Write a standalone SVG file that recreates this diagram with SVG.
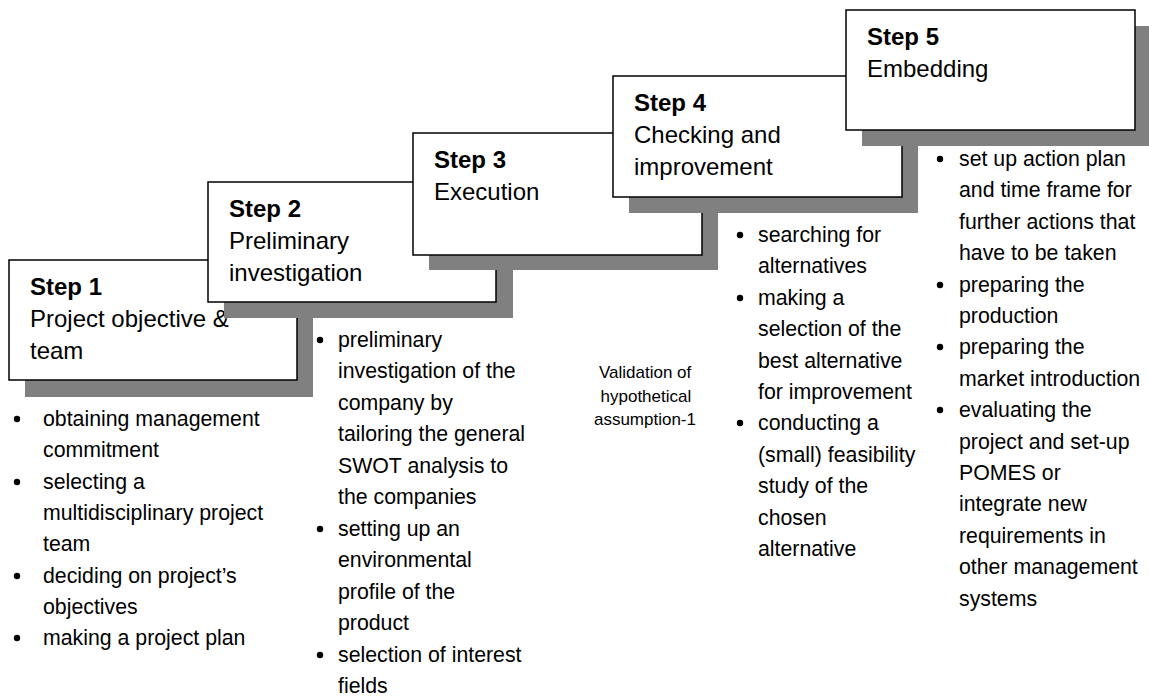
<svg xmlns="http://www.w3.org/2000/svg" width="1149" height="700" viewBox="0 0 1149 700">
  <style>
    .shadow { fill: #808080; stroke: none; }
    .box { fill: #ffffff; stroke: #000000; stroke-width: 1.5; }
    .title { font-family: "Liberation Sans", Arial, sans-serif; font-size: 24px; font-weight: bold; fill: #000; }
    .label { font-family: "Liberation Sans", Arial, sans-serif; font-size: 24px; fill: #000; }
    .item { font-family: "Liberation Sans", Arial, sans-serif; font-size: 21.3px; fill: #000; }
    .note { font-family: "Liberation Sans", Arial, sans-serif; font-size: 17px; fill: #000; text-anchor: end; }
    .dot { fill: #000; }
  </style>
  <rect width="1149" height="700" fill="#ffffff"/>

  <!-- Step 1 -->
  <g id="step1">
    <rect class="shadow" x="25" y="276" width="288" height="121"/>
    <rect class="box" x="9" y="260" width="288" height="120"/>
    <text class="title" x="30" y="295">Step 1</text>
    <text class="label" x="30" y="327">Project objective &amp;</text>
    <text class="label" x="30" y="359">team</text>
    <g class="bullets">
      <circle class="dot" cx="17" cy="419" r="3.2"/>
      <circle class="dot" cx="17" cy="482" r="3.2"/>
      <circle class="dot" cx="17" cy="576" r="3.2"/>
      <circle class="dot" cx="17" cy="638" r="3.2"/>
      <text class="item">
        <tspan x="43" y="426">obtaining management</tspan>
        <tspan x="43" y="457.3">commitment</tspan>
        <tspan x="43" y="488.6">selecting a</tspan>
        <tspan x="43" y="519.9">multidisciplinary project</tspan>
        <tspan x="43" y="551.2">team</tspan>
        <tspan x="43" y="582.5">deciding on project’s</tspan>
        <tspan x="43" y="613.8">objectives</tspan>
        <tspan x="43" y="645.1">making a project plan</tspan>
      </text>
    </g>
  </g>

  <!-- Step 2 -->
  <g id="step2">
    <rect class="shadow" x="224" y="198" width="289" height="120"/>
    <rect class="box" x="208" y="182" width="288" height="120"/>
    <text class="title" x="229" y="217">Step 2</text>
    <text class="label" x="229" y="249">Preliminary</text>
    <text class="label" x="229" y="281">investigation</text>
    <g class="bullets">
      <circle class="dot" cx="320" cy="340" r="3.2"/>
      <circle class="dot" cx="320" cy="529" r="3.2"/>
      <circle class="dot" cx="320" cy="655" r="3.2"/>
      <text class="item">
        <tspan x="338" y="347">preliminary</tspan>
        <tspan x="338" y="378.45">investigation of the</tspan>
        <tspan x="338" y="409.9">company by</tspan>
        <tspan x="338" y="441.35">tailoring the general</tspan>
        <tspan x="338" y="472.8">SWOT analysis to</tspan>
        <tspan x="338" y="504.25">the companies</tspan>
        <tspan x="338" y="535.7">setting up an</tspan>
        <tspan x="338" y="567.15">environmental</tspan>
        <tspan x="338" y="598.6">profile of the</tspan>
        <tspan x="338" y="630.05">product</tspan>
        <tspan x="338" y="661.5">selection of interest</tspan>
        <tspan x="338" y="692.95">fields</tspan>
      </text>
    </g>
  </g>

  <!-- Step 3 -->
  <g id="step3">
    <rect class="shadow" x="429" y="149" width="289" height="121"/>
    <rect class="box" x="413" y="133" width="289" height="122"/>
    <text class="title" x="434" y="168">Step 3</text>
    <text class="label" x="434" y="200">Execution</text>
    <text class="note">
      <tspan x="696" y="378">Validation of</tspan>
      <tspan x="696" y="401.5">hypothetical</tspan>
      <tspan x="696" y="425">assumption-1</tspan>
    </text>
  </g>

  <!-- Step 4 -->
  <g id="step4">
    <rect class="shadow" x="629" y="92" width="289" height="121"/>
    <rect class="box" x="613" y="76" width="289" height="121"/>
    <text class="title" x="634" y="111">Step 4</text>
    <text class="label" x="634" y="143">Checking and</text>
    <text class="label" x="634" y="175">improvement</text>
    <g class="bullets">
      <circle class="dot" cx="740" cy="235" r="3.2"/>
      <circle class="dot" cx="740" cy="298" r="3.2"/>
      <circle class="dot" cx="740" cy="423" r="3.2"/>
      <text class="item">
        <tspan x="758" y="242">searching for</tspan>
        <tspan x="758" y="273.4">alternatives</tspan>
        <tspan x="758" y="304.8">making a</tspan>
        <tspan x="758" y="336.2">selection of the</tspan>
        <tspan x="758" y="367.6">best alternative</tspan>
        <tspan x="758" y="399">for improvement</tspan>
        <tspan x="758" y="430.4">conducting a</tspan>
        <tspan x="758" y="461.8">(small) feasibility</tspan>
        <tspan x="758" y="493.2">study of the</tspan>
        <tspan x="758" y="524.6">chosen</tspan>
        <tspan x="758" y="556">alternative</tspan>
      </text>
    </g>
  </g>

  <!-- Step 5 -->
  <g id="step5">
    <rect class="shadow" x="862" y="26" width="289" height="120"/>
    <rect class="box" x="846" y="10" width="289" height="120"/>
    <text class="title" x="867" y="45">Step 5</text>
    <text class="label" x="867" y="77">Embedding</text>
    <g class="bullets">
      <circle class="dot" cx="940" cy="159" r="3.2"/>
      <circle class="dot" cx="940" cy="285" r="3.2"/>
      <circle class="dot" cx="940" cy="347" r="3.2"/>
      <circle class="dot" cx="940" cy="410" r="3.2"/>
      <text class="item">
        <tspan x="959" y="166">set up action plan</tspan>
        <tspan x="959" y="197.4">and time frame for</tspan>
        <tspan x="959" y="228.8">further actions that</tspan>
        <tspan x="959" y="260.2">have to be taken</tspan>
        <tspan x="959" y="291.6">preparing the</tspan>
        <tspan x="959" y="323">production</tspan>
        <tspan x="959" y="354.4">preparing the</tspan>
        <tspan x="959" y="385.8">market introduction</tspan>
        <tspan x="959" y="417.2">evaluating the</tspan>
        <tspan x="959" y="448.6">project and set-up</tspan>
        <tspan x="959" y="480">POMES or</tspan>
        <tspan x="959" y="511.4">integrate new</tspan>
        <tspan x="959" y="542.8">requirements in</tspan>
        <tspan x="959" y="574.2">other management</tspan>
        <tspan x="959" y="605.6">systems</tspan>
      </text>
    </g>
  </g>
</svg>
